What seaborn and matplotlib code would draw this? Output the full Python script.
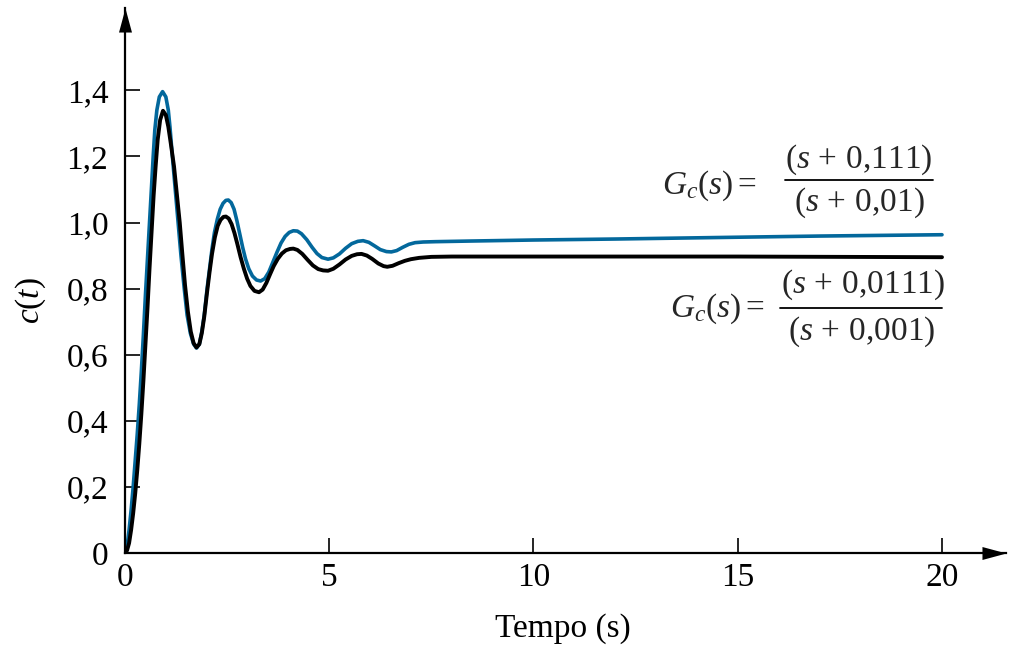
import numpy as np
import pandas as pd
import matplotlib
matplotlib.use("Agg")
import matplotlib.pyplot as plt
from matplotlib.lines import Line2D
import seaborn as sns

# ---- data ----
t_blue = [0.00, 0.05, 0.10, 0.15, 0.20, 0.25, 0.30, 0.35, 0.40, 0.45, 0.50, 0.55,
          0.60, 0.65, 0.69, 0.73, 0.78, 0.84, 0.92, 1.00, 1.06, 1.10, 1.16, 1.23,
          1.30, 1.37, 1.45, 1.52, 1.60, 1.68, 1.75, 1.82, 1.88, 1.94, 2.01, 2.07,
          2.13, 2.19, 2.26, 2.33, 2.40, 2.47, 2.53, 2.60, 2.67, 2.74, 2.81, 2.88,
          2.95, 3.03, 3.12, 3.22, 3.32, 3.42, 3.52, 3.62, 3.72, 3.82, 3.92, 4.02,
          4.12, 4.22, 4.32, 4.45, 4.58, 4.70, 4.82, 4.97, 5.10, 5.25, 5.40, 5.55,
          5.70, 5.83, 5.97, 6.10, 6.25, 6.40, 6.52, 6.65, 6.80, 6.95, 7.10, 7.30,
          7.60, 8.50, 10.0, 12.0, 15.3, 17.0, 20.0]
c_blue = [0.000, 0.020, 0.070, 0.130, 0.200, 0.280, 0.360, 0.450, 0.550, 0.660, 0.780, 0.890,
          1.000, 1.110, 1.200, 1.280, 1.340, 1.380, 1.396, 1.380, 1.340, 1.290, 1.200, 1.100,
          1.000, 0.900, 0.800, 0.720, 0.665, 0.632, 0.620, 0.632, 0.670, 0.720, 0.800, 0.860,
          0.920, 0.970, 1.010, 1.040, 1.058, 1.067, 1.068, 1.060, 1.040, 1.005, 0.965, 0.925,
          0.890, 0.860, 0.838, 0.826, 0.823, 0.830, 0.850, 0.880, 0.910, 0.938, 0.958, 0.970,
          0.975, 0.974, 0.966, 0.948, 0.925, 0.906, 0.894, 0.889, 0.893, 0.905, 0.922, 0.936,
          0.943, 0.945, 0.940, 0.930, 0.918, 0.912, 0.911, 0.915, 0.925, 0.934, 0.939, 0.941,
          0.942, 0.944, 0.947, 0.950, 0.956, 0.959, 0.963]

t_black = [0.00, 0.05, 0.10, 0.15, 0.20, 0.25, 0.30, 0.35, 0.40, 0.45, 0.50, 0.55,
           0.60, 0.65, 0.70, 0.75, 0.80, 0.86, 0.93, 1.00, 1.06, 1.12, 1.20, 1.27,
           1.34, 1.40, 1.47, 1.54, 1.61, 1.68, 1.75, 1.82, 1.88, 1.94, 2.01, 2.07,
           2.13, 2.20, 2.27, 2.34, 2.41, 2.47, 2.54, 2.61, 2.68, 2.75, 2.83, 2.91,
           2.99, 3.07, 3.17, 3.28, 3.37, 3.46, 3.55, 3.64, 3.74, 3.84, 3.94, 4.04,
           4.12, 4.22, 4.34, 4.47, 4.60, 4.73, 4.85, 4.97, 5.10, 5.25, 5.40, 5.55,
           5.68, 5.79, 5.92, 6.05, 6.20, 6.33, 6.42, 6.55, 6.70, 6.85, 7.00, 7.20,
           7.50, 8.00, 10.0, 15.0, 20.0]
c_black = [0.000, 0.008, 0.030, 0.070, 0.120, 0.180, 0.250, 0.330, 0.420, 0.520, 0.630, 0.740,
           0.860, 0.970, 1.080, 1.170, 1.250, 1.310, 1.338, 1.325, 1.290, 1.240, 1.170, 1.085,
           1.000, 0.910, 0.810, 0.730, 0.670, 0.635, 0.622, 0.632, 0.665, 0.715, 0.790, 0.850,
           0.905, 0.955, 0.990, 1.008, 1.017, 1.018, 1.012, 0.995, 0.968, 0.935, 0.895, 0.860,
           0.830, 0.808, 0.793, 0.789, 0.797, 0.817, 0.843, 0.868, 0.890, 0.906, 0.916, 0.920,
           0.921, 0.917, 0.905, 0.887, 0.870, 0.859, 0.855, 0.854, 0.860, 0.873, 0.888, 0.899,
           0.904, 0.905, 0.900, 0.890, 0.876, 0.868, 0.866, 0.869, 0.877, 0.884, 0.889, 0.893,
           0.896, 0.897, 0.897, 0.897, 0.895]

x_ticks = [0, 5, 10, 15, 20]
x_tick_labels = ["0", "5", "10", "15", "20"]
y_ticks = [0, 0.2, 0.4, 0.6, 0.8, 1.0, 1.2, 1.4]
y_tick_labels = ["0", "0,2", "0,4", "0,6", "0,8", "1,0", "1,2", "1,4"]

label_top = [r"$G_c(s) =$", r"$(s\,+\,0{,}111)$", r"$(s\,+\,0{,}01)$"]
label_bot = [r"$G_c(s) =$", r"$(s\,+\,0{,}0111)$", r"$(s\,+\,0{,}001)$"]

BLUE = "#03689c"
BLACK = "#000000"

sns.set_theme(style="white")
plt.rcParams["font.family"] = ["Liberation Serif", "DejaVu Serif"]
plt.rcParams["mathtext.fontset"] = "custom"
plt.rcParams["mathtext.rm"] = "Liberation Serif"
plt.rcParams["mathtext.it"] = "Liberation Serif:italic"
plt.rcParams["mathtext.bf"] = "Liberation Serif:bold"

W, H = 1012, 649
fig = plt.figure(figsize=(W / 100, H / 100), dpi=100)
fig.patch.set_facecolor("white")

# axes: x=0 at px 125, arrow tip at px 1006; y=0 at px 553, arrow tip at px 8
left_px, right_px, bot_px, top_px = 125, 1006, 553, 8
ax = fig.add_axes([left_px / W, (H - bot_px) / H, (right_px - left_px) / W, (bot_px - top_px) / H])
ax.set_facecolor("white")

df_b = pd.DataFrame({"t": t_blue, "c": c_blue})
df_k = pd.DataFrame({"t": t_black, "c": c_black})
sns.lineplot(data=df_b, x="t", y="c", ax=ax, color=BLUE, lw=2.6, sort=False, estimator=None)
sns.lineplot(data=df_k, x="t", y="c", ax=ax, color=BLACK, lw=2.8, sort=False, estimator=None)

px_per_x = 40.85
px_per_y = 330.5
ax.set_xlim(0, (right_px - left_px) / px_per_x)
ax.set_ylim(0, (bot_px - top_px) / px_per_y)

for s in ["top", "right"]:
    ax.spines[s].set_visible(False)
for s in ["left", "bottom"]:
    ax.spines[s].set_visible(True)
    ax.spines[s].set_color("black")
    ax.spines[s].set_linewidth(1.6)

ax.set_xticks(x_ticks)
ax.set_xticklabels(x_tick_labels)
ax.set_yticks(y_ticks)
ax.set_yticklabels(y_tick_labels)
ax.tick_params(axis="both", direction="in", length=11, width=1.2, color="black",
               labelsize=24, labelcolor="black")
ax.tick_params(axis="x", pad=7, bottom=True)
ax.tick_params(axis="y", pad=12, left=True)
ax.grid(False)

# arrow heads
ax.plot(1, 0, marker=[(0, 0), (-1, 0.27), (-1, -0.27), (0, 0)], markersize=34.6,
        color="black", mew=0, transform=ax.transAxes, clip_on=False)
ax.plot(0, 1, marker=[(0, 0), (0.27, -1), (-0.27, -1), (0, 0)], markersize=34.6,
        color="black", mew=0, transform=ax.transAxes, clip_on=False)

ax.set_xlabel("Tempo (s)", fontsize=24, color="black")
ax.set_ylabel(r"$c(t)$", fontsize=24, color="black")
ax.xaxis.set_label_coords(0.497, -0.110)
ax.yaxis.set_label_coords(-0.0874, 0.464)


def fx(px):
    return px / W


def fy(py):
    return 1 - py / H


# top formula
fig.text(fx(662), fy(186), label_top[0], fontsize=24, ha="left", va="center")
fig.text(fx(859), fy(160), label_top[1], fontsize=24, ha="center", va="center")
fig.text(fx(859), fy(203), label_top[2], fontsize=24, ha="center", va="center")
fig.add_artist(Line2D([fx(785), fx(933)], [fy(180), fy(180)], color="black", lw=1.3,
                      transform=fig.transFigure))
# bottom formula
fig.text(fx(670), fy(309), label_bot[0], fontsize=24, ha="left", va="center")
fig.text(fx(863), fy(285), label_bot[1], fontsize=24, ha="center", va="center")
fig.text(fx(862), fy(332), label_bot[2], fontsize=24, ha="center", va="center")
fig.add_artist(Line2D([fx(780), fx(942)], [fy(308), fy(308)], color="black", lw=1.3,
                      transform=fig.transFigure))

fig.savefig("out.png", dpi=100)
